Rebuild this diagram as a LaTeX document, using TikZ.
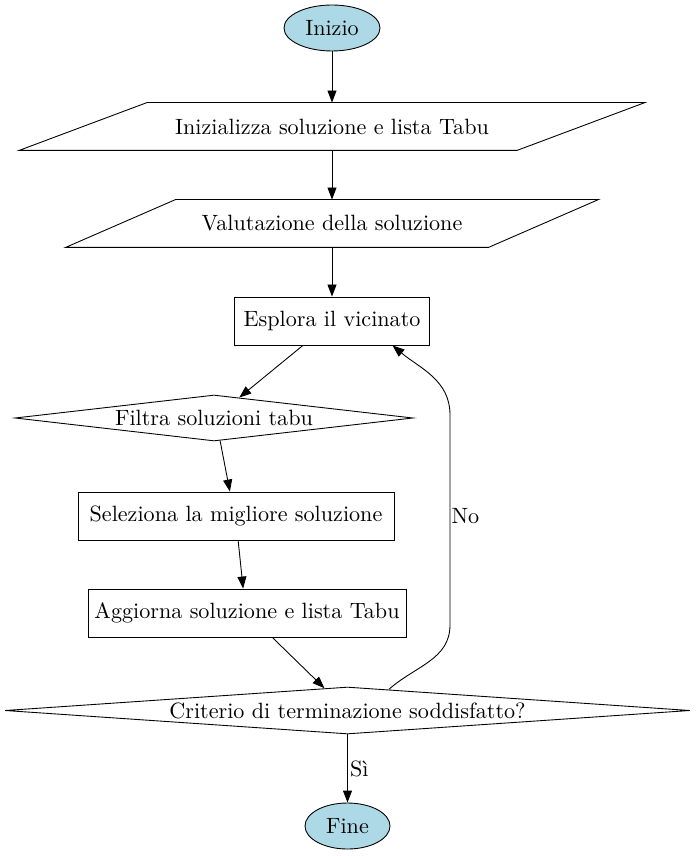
\documentclass[tikz,border=0pt]{standalone}
\usetikzlibrary{shapes.geometric,arrows.meta}

\definecolor{termblue}{RGB}{173,216,230}
\def\px{0.452pt}

\tikzset{
  term/.style={ellipse,draw,fill=termblue,minimum width=#1*\px,minimum height=46*\px,inner sep=0pt},
  data/.style={rectangle,minimum width=#1*\px,minimum height=47*\px,inner sep=0pt},
  proc/.style={rectangle,draw,minimum width=#1*\px,minimum height=48*\px,inner sep=1pt},
  decision/.style={diamond,draw,inner sep=0.5pt},
  arr/.style={-{Triangle[length=12*\px,width=9*\px]}},
}

\begin{document}
\begin{tikzpicture}[x=\px,y=-\px]
  \useasboundingbox (0,0) rectangle (697,856);
  %
  \node[term=96] (inizio) at (332,28) {Inizio};
  \node[data=497] (init) at (332,126.5) {Inizializza soluzione e lista Tabu};
  \draw ([xshift=64*\px]init.north west) -- ([xshift=64*\px]init.north east)
    -- ([xshift=-64*\px]init.south east) -- ([xshift=-64*\px]init.south west) -- cycle;
  \node[data=422] (valuta) at (332,223.5) {Valutazione della soluzione};
  \draw ([xshift=55*\px]valuta.north west) -- ([xshift=55*\px]valuta.north east)
    -- ([xshift=-55*\px]valuta.south east) -- ([xshift=-55*\px]valuta.south west) -- cycle;
  \node[proc=195] (esplora) at (332,321) {Esplora il vicinato};
  \node[decision,aspect=8.65,minimum width=398*\px,minimum height=46*\px] (filtra) at (214,418) {Filtra soluzioni tabu};
  \node[proc=316] (seleziona) at (236,516) {Seleziona la migliore soluzione};
  \node[proc=318] (aggiorna) at (247,613) {Aggiorna soluzione e lista Tabu};
  \node[decision,aspect=14.6,minimum width=685*\px,minimum height=47*\px] (criterio) at (347.5,710.5) {Criterio di terminazione soddisfatto?};
  \node[term=85] (fine) at (347.5,826) {Fine};
  %
  \draw[arr] (inizio) -- (init.north);
  \draw[arr] (init.south) -- (valuta.north);
  \draw[arr] (valuta.south) -- (esplora.north);
  \draw[arr] (esplora.-140) -- (filtra.39);
  \draw[arr] (filtra.-75) -- (seleziona.104);
  \draw[arr] (seleziona.-85) -- (aggiorna.99);
  \draw[arr] (aggiorna.-44) -- (criterio.136);
  \draw[arr] (criterio) -- node[right,inner sep=1pt] {Sì} (fine);
  %
  \draw[arr] (criterio.27) to[out=42,in=-90] (450,625)
    -- node[pos=0.52,right,inner sep=0.5pt] {No} (450,415)
    to[out=90,in=-40] (esplora.-22);
\end{tikzpicture}
\end{document}
